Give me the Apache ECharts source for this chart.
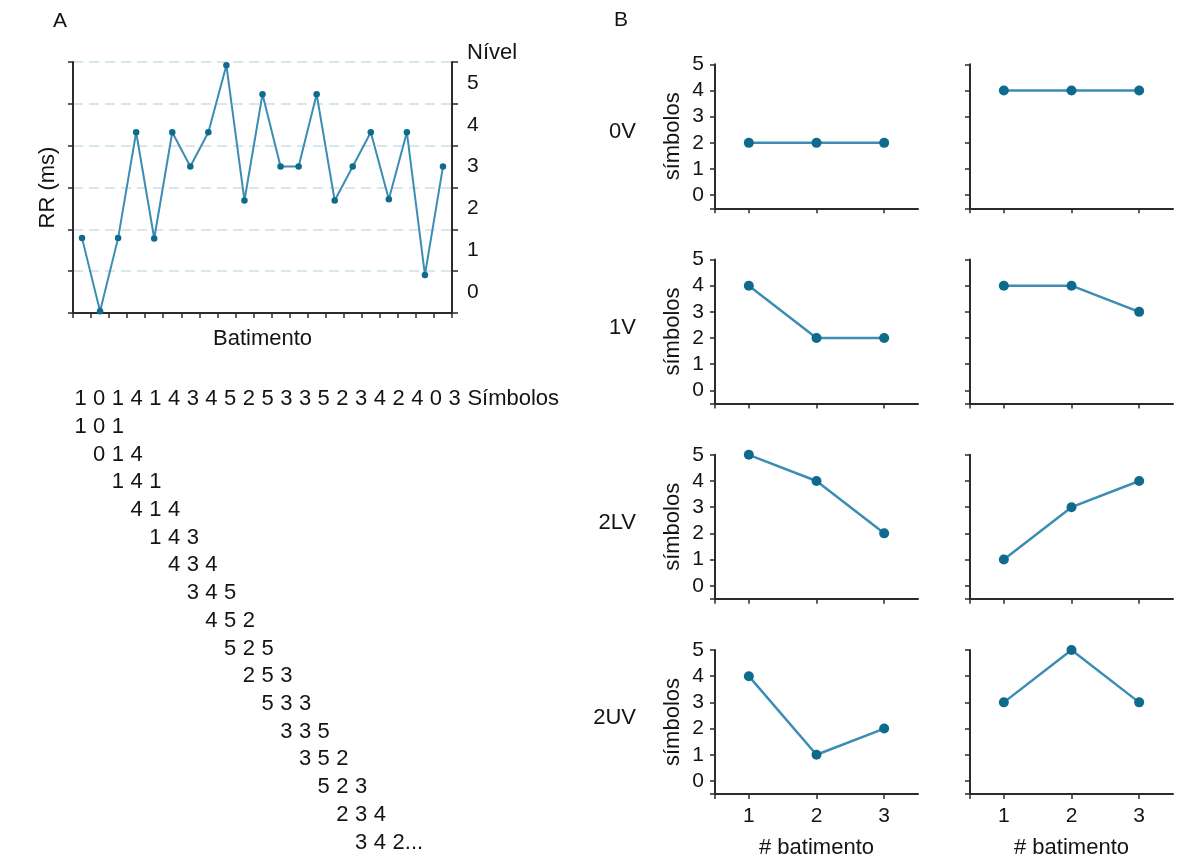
<!DOCTYPE html>
<html>
<head>
<meta charset="utf-8">
<script src="https://cdn.jsdelivr.net/npm/echarts@6/dist/echarts.min.js"></script>
<style>html,body{margin:0;padding:0;background:#fff}#c{width:1194px;height:863px}</style>
</head>
<body>
<div id="c"></div>
<script>
// ---------- DATA ----------
const beatCategories = ['1','2','3','4','5','6','7','8','9','10','11','12','13','14','15','16','17','18','19','20','21'];
const rrValues = [1.79, 0.04, 1.79, 4.32, 1.78, 4.32, 3.5, 4.32, 5.92, 2.69, 5.23, 3.5, 3.5, 5.23, 2.69, 3.5, 4.32, 2.72, 4.32, 0.91, 3.5];
const levelCategories = ['0','1','2','3','4','5'];
const symbolSequence = [1,0,1,4,1,4,3,4,5,2,5,3,3,5,2,3,4,2,4,0,3];
const tripletRows = 16;
const rowLabels = ['0V','1V','2LV','2UV'];
const patternsLeft  = [[2,2,2],[4,2,2],[5,4,2],[4,1,2]];
const patternsRight = [[4,4,4],[4,4,3],[1,3,4],[3,5,3]];
const beatTickLabels = [1,2,3];
const symbolTickLabels = [0,1,2,3,4,5];

// ---------- STYLE ----------
const FONT = '"Liberation Sans", Arial, sans-serif';
const TXT = '#141414';
const AX = '#2b2b2b';
const LINE = '#3b8db3';
const DOT = '#0f6b8e';

const chart = echarts.init(document.getElementById('c'));

const grids = [], xAxes = [], yAxes = [], series = [], graphics = [];

// Panel A
grids.push({left:73, top:62, width:379, height:251, outerBoundsMode:'none'});
xAxes.push({
  gridIndex:0, type:'category', data:beatCategories, boundaryGap:true,
  axisLine:{show:true, onZero:false, lineStyle:{color:AX, width:2}},
  axisTick:{show:true, interval:0, length:5, lineStyle:{color:AX, width:1.5}},
  axisLabel:{show:false, interval:0},
  splitLine:{show:false},
  name:'Batimento', nameLocation:'middle', nameGap:15,
  nameTextStyle:{fontSize:22, fontFamily:FONT, color:TXT}
});
yAxes.push({
  gridIndex:0, type:'value', min:0, max:6, interval:1, position:'left',
  axisLine:{show:true, onZero:false, lineStyle:{color:AX, width:2}},
  axisTick:{show:true, length:5, lineStyle:{color:AX, width:1.5}},
  axisLabel:{show:false},
  splitLine:{show:true, lineStyle:{color:'#c9dfe9', type:[10,6], width:1.5}},
  name:'RR (ms)', nameLocation:'middle', nameGap:14,
  nameTextStyle:{fontSize:22, fontFamily:FONT, color:TXT}
});
yAxes.push({
  gridIndex:0, type:'category', data:levelCategories, position:'right', boundaryGap:true,
  axisLine:{show:true, onZero:false, lineStyle:{color:AX, width:2}},
  axisTick:{show:true, interval:0, length:6, lineStyle:{color:AX, width:1.5}},
  axisLabel:{show:true, interval:0, margin:15, fontSize:21, fontFamily:FONT, color:TXT},
  splitLine:{show:false},
  name:'Nível', nameLocation:'end', nameGap:-2,
  nameTextStyle:{fontSize:22, fontFamily:FONT, color:TXT, align:'left', padding:[0,0,0,15]}
});
series.push({
  type:'line', xAxisIndex:0, yAxisIndex:0, data:rrValues,
  symbol:'circle', symbolSize:6.5, showAllSymbol:true,
  lineStyle:{color:LINE, width:2}, itemStyle:{color:DOT}, z:3
});

// Symbols text block
grids.push({left:80.5, top:399, width:392.9, height:443.5, outerBoundsMode:'none'});
xAxes.push({gridIndex:1, type:'value', min:0, max:21, show:false});
yAxes.push({gridIndex:1, type:'value', min:0, max:16, inverse:true, show:false});
const symbolItems = [];
symbolSequence.forEach((v, j) => symbolItems.push({value:[j, 0], name:String(v)}));
symbolItems.push({value:[symbolSequence.length, 0], name:'Símbolos', label:{align:'left', offset:[-6,0]}});
for (let r = 1; r <= tripletRows; r++) {
  for (let k = 0; k < 3; k++) {
    const j = r - 1 + k;
    const last = (r === tripletRows && k === 2);
    const item = {value:[j, r], name: String(symbolSequence[j]) + (last ? '...' : '')};
    if (last) item.label = {align:'left', offset:[-6,0]};
    symbolItems.push(item);
  }
}
series.push({
  type:'scatter', xAxisIndex:1, yAxisIndex:2, data:symbolItems, clip:false,
  symbolSize:0, itemStyle:{color:TXT, opacity:1},
  label:{show:true, position:'inside', formatter:'{b}', fontSize:22, fontFamily:FONT,
         color:TXT, opacity:1, textBorderWidth:0, textBorderColor:'transparent'},
  emphasis:{disabled:true},
  silent:true
});

// Panel B
const rowTops = [64.3, 259.5, 454.8, 650];
const colLefts = [715, 970];
rowLabels.forEach((lab, i) => {
  [patternsLeft[i], patternsRight[i]].forEach((pat, c) => {
    const gi = grids.length;
    grids.push({left:colLefts[c], top:rowTops[i], width:203, height:144, outerBoundsMode:'none'});
    const bottom = (i === rowLabels.length - 1);
    xAxes.push({
      gridIndex:gi, type:'value', min:0.5, max:3.5,
      axisLine:{show:true, onZero:false, lineStyle:{color:AX, width:2}},
      axisTick:{show:true, customValues:[0.5].concat(beatTickLabels), length:5, lineStyle:{color:AX, width:1.5}},
      axisLabel:{show:bottom, customValues:beatTickLabels, margin:12, fontSize:21, fontFamily:FONT, color:TXT},
      splitLine:{show:false},
      name: bottom ? '# batimento' : '', nameLocation:'middle', nameGap:43,
      nameTextStyle:{fontSize:22, fontFamily:FONT, color:TXT}
    });
    yAxes.push({
      gridIndex:gi, type:'value', min:-0.5, max:5,
      axisLine:{show:true, onZero:false, lineStyle:{color:AX, width:2}},
      axisTick:{show:true, customValues:[-0.5].concat(symbolTickLabels), length:5, lineStyle:{color:AX, width:1.5}},
      axisLabel:{show:c === 0, customValues:symbolTickLabels, margin:11, fontSize:21, fontFamily:FONT, color:TXT},
      splitLine:{show:false},
      name: c === 0 ? 'símbolos' : '', nameLocation:'middle', nameGap:31,
      nameTextStyle:{fontSize:22, fontFamily:FONT, color:TXT}
    });
    series.push({
      type:'line', xAxisIndex:gi, yAxisIndex:gi + 1,
      data: pat.map((v, k) => [beatTickLabels[k], v]),
      symbol:'circle', symbolSize:10,
      lineStyle:{color:LINE, width:2.5}, itemStyle:{color:DOT}, z:3
    });
  });
  graphics.push({type:'text', x:636, y:rowTops[i] + 68,
    style:{text:lab, fill:TXT, font:'22px ' + FONT, align:'right', verticalAlign:'middle'}});
});

graphics.push({type:'text', x:53, y:21, style:{text:'A', fill:TXT, font:'21px ' + FONT, align:'left', verticalAlign:'middle'}});
graphics.push({type:'text', x:614, y:20, style:{text:'B', fill:TXT, font:'21px ' + FONT, align:'left', verticalAlign:'middle'}});

chart.setOption({
  animation:false,
  backgroundColor:'#ffffff',
  textStyle:{fontFamily:FONT},
  grid:grids, xAxis:xAxes, yAxis:yAxes, series:series, graphic:graphics
});
</script>
</body>
</html>
